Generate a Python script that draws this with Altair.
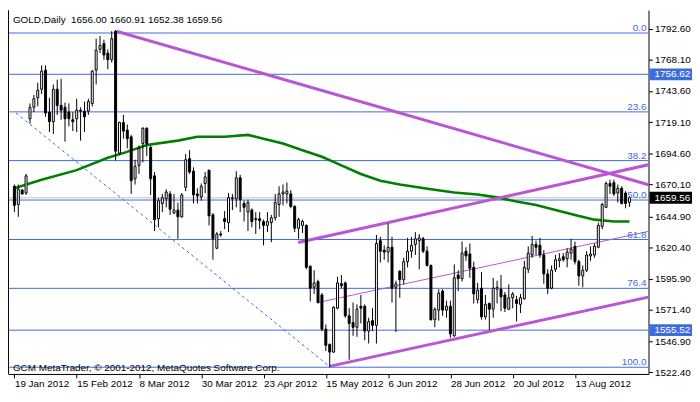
import altair as alt
import pandas as pd

# ---------------- data ----------------
opens = [
    1668.6, 1654.3, 1665.6, 1663.3, 1721.7, 1730.7, 1738.2, 1744.9, 1759.9, 1726.9,
    1719.4, 1744.9, 1732.2, 1730.7, 1726.9, 1720.9, 1721.7, 1728.4, 1727.7, 1727.7,
    1733.7, 1759.9, 1776.3, 1780.8, 1773.3, 1768.1, 1790.5, 1694.7, 1718.7, 1712.7,
    1707.5, 1674.5, 1685.0, 1702.2, 1714.2, 1699.2, 1676.8, 1643.1, 1655.1, 1658.8,
    1662.6, 1647.6, 1649.9, 1644.6, 1667.8, 1690.3, 1680.5, 1662.6, 1660.3, 1670.8,
    1681.3, 1646.1, 1619.9, 1631.1, 1643.1, 1640.1, 1658.8, 1658.8, 1675.3, 1655.1,
    1648.3, 1649.9, 1643.1, 1643.1, 1640.9, 1637.9, 1640.1, 1643.9, 1654.3, 1662.6,
    1662.6, 1662.6, 1652.8, 1635.6, 1637.9, 1637.9, 1605.7, 1589.2, 1593.7, 1583.2,
    1556.3, 1544.3, 1538.3, 1572.8, 1592.0, 1592.7, 1566.8, 1561.5, 1557.8, 1574.3,
    1574.3, 1554.8, 1563.0, 1559.3, 1625.9, 1618.4, 1616.9, 1620.7, 1589.2, 1601.9,
    1595.2, 1609.4, 1617.6, 1622.9, 1625.9, 1627.4, 1617.6, 1606.4, 1563.8, 1571.3,
    1586.2, 1571.3, 1574.3, 1551.1, 1598.9, 1596.0, 1617.6, 1615.4, 1604.9, 1579.5,
    1588.5, 1566.0, 1576.5, 1572.0, 1587.7, 1587.7, 1583.2, 1572.0, 1581.0, 1579.5,
    1575.8, 1580.2, 1603.4, 1614.6, 1622.9, 1622.2, 1614.6, 1599.7, 1588.5, 1603.4,
    1610.1, 1613.2, 1611.7, 1616.1, 1621.4, 1609.4, 1598.2, 1602.6, 1613.9, 1614.6,
    1620.7, 1637.1, 1652.1, 1670.8, 1671.5, 1663.3, 1667.1, 1663.3, 1656.00,
]
highs = [
    1670.0, 1670.0, 1666.3, 1678.3, 1733.7, 1740.4, 1750.1, 1763.6, 1763.6, 1738.2,
    1748.6, 1752.4, 1753.1, 1734.4, 1733.7, 1726.9, 1737.4, 1730.7, 1735.2, 1737.4,
    1759.9, 1784.6, 1786.8, 1783.8, 1776.3, 1790.5, 1791.3, 1719.4, 1724.7, 1717.2,
    1709.0, 1689.5, 1700.7, 1715.0, 1715.0, 1700.7, 1679.8, 1659.6, 1662.6, 1666.3,
    1664.8, 1662.6, 1655.8, 1663.3, 1694.0, 1697.0, 1683.5, 1667.1, 1670.8, 1679.8,
    1681.5, 1647.6, 1632.6, 1633.4, 1649.1, 1663.3, 1662.6, 1680.5, 1677.6, 1657.3,
    1658.1, 1651.3, 1648.3, 1648.3, 1642.4, 1648.3, 1646.1, 1662.6, 1668.6, 1670.0,
    1671.6, 1665.6, 1653.6, 1643.9, 1642.4, 1638.6, 1606.4, 1602.6, 1595.2, 1584.7,
    1560.0, 1545.1, 1574.3, 1597.5, 1598.9, 1593.7, 1572.8, 1577.2, 1575.8, 1583.2,
    1575.8, 1565.3, 1572.8, 1630.4, 1628.9, 1622.2, 1639.4, 1628.9, 1594.4, 1602.6,
    1612.4, 1628.1, 1628.9, 1632.6, 1631.1, 1628.9, 1621.4, 1607.2, 1573.5, 1587.7,
    1587.7, 1578.7, 1578.7, 1607.2, 1602.6, 1625.2, 1620.7, 1623.7, 1609.4, 1592.7,
    1601.2, 1583.2, 1577.2, 1596.7, 1594.4, 1598.9, 1585.5, 1591.5, 1585.5, 1582.5,
    1584.0, 1610.1, 1621.4, 1629.6, 1625.9, 1628.1, 1618.4, 1603.4, 1606.4, 1614.6,
    1616.1, 1616.1, 1619.9, 1627.4, 1625.2, 1610.9, 1606.4, 1617.6, 1621.4, 1623.7,
    1640.1, 1655.8, 1672.3, 1673.8, 1673.8, 1670.0, 1668.6, 1664.8, 1660.91,
]
lows = [
    1648.3, 1644.6, 1662.0, 1661.8, 1717.9, 1726.9, 1731.4, 1741.1, 1723.2, 1711.2,
    1709.7, 1724.7, 1720.9, 1703.7, 1715.7, 1712.0, 1711.2, 1704.5, 1711.2, 1724.7,
    1731.4, 1748.6, 1773.3, 1768.1, 1760.6, 1765.8, 1688.8, 1693.2, 1706.0, 1698.5,
    1662.6, 1670.0, 1678.3, 1687.3, 1692.5, 1661.8, 1633.4, 1636.4, 1648.3, 1652.1,
    1646.1, 1646.8, 1627.4, 1643.9, 1664.8, 1678.3, 1655.1, 1655.1, 1657.3, 1663.3,
    1637.9, 1610.9, 1619.2, 1628.9, 1634.9, 1632.6, 1649.9, 1652.1, 1648.3, 1640.9,
    1633.4, 1636.4, 1631.1, 1634.9, 1622.2, 1632.6, 1624.6, 1641.6, 1644.6, 1653.6,
    1655.1, 1651.3, 1632.6, 1627.4, 1631.9, 1603.4, 1578.0, 1584.0, 1576.5, 1554.8,
    1539.1, 1526.4, 1537.6, 1572.0, 1588.5, 1565.3, 1532.3, 1551.1, 1550.3, 1560.8,
    1547.6, 1545.1, 1554.8, 1545.0, 1608.7, 1610.9, 1608.7, 1577.2, 1554.1, 1581.0,
    1591.5, 1604.9, 1612.4, 1614.6, 1603.4, 1616.1, 1605.7, 1563.0, 1557.8, 1563.0,
    1566.8, 1565.3, 1549.6, 1550.3, 1586.2, 1593.7, 1610.1, 1596.7, 1576.5, 1576.5,
    1563.8, 1563.8, 1555.5, 1565.3, 1576.5, 1570.5, 1569.8, 1571.3, 1572.8, 1562.3,
    1569.0, 1579.5, 1600.4, 1612.4, 1614.6, 1612.4, 1592.0, 1584.0, 1587.7, 1601.2,
    1604.9, 1609.4, 1604.9, 1610.9, 1607.2, 1590.5, 1589.2, 1601.2, 1610.1, 1612.4,
    1619.9, 1634.9, 1651.4, 1662.6, 1661.0, 1655.8, 1654.3, 1651.3, 1652.38,
]
closes = [
    1653.6, 1666.3, 1662.6, 1676.8, 1730.7, 1737.4, 1744.1, 1759.1, 1726.2, 1719.4,
    1744.9, 1732.2, 1728.4, 1721.7, 1721.7, 1719.4, 1728.4, 1727.7, 1723.2, 1735.2,
    1759.1, 1775.6, 1779.3, 1771.8, 1768.1, 1784.6, 1696.2, 1718.7, 1712.0, 1706.0,
    1673.0, 1684.3, 1698.5, 1714.2, 1702.2, 1674.5, 1642.4, 1657.3, 1659.6, 1664.1,
    1650.6, 1649.9, 1644.6, 1661.8, 1689.5, 1679.8, 1661.8, 1661.1, 1668.6, 1676.0,
    1645.4, 1627.4, 1631.1, 1630.4, 1640.9, 1659.6, 1659.6, 1675.3, 1658.1, 1652.1,
    1655.8, 1640.9, 1642.4, 1641.6, 1637.9, 1640.9, 1643.9, 1655.8, 1662.6, 1664.1,
    1664.8, 1652.8, 1635.6, 1642.4, 1640.9, 1604.9, 1588.5, 1592.7, 1577.2, 1556.3,
    1543.6, 1538.3, 1573.5, 1592.7, 1590.5, 1566.8, 1560.8, 1557.8, 1572.0, 1572.8,
    1554.8, 1562.3, 1559.3, 1623.7, 1617.6, 1616.9, 1620.7, 1588.5, 1592.0, 1595.2,
    1609.4, 1617.6, 1622.2, 1627.4, 1628.1, 1617.6, 1606.4, 1563.8, 1572.0, 1584.7,
    1571.3, 1574.3, 1552.6, 1596.7, 1596.0, 1616.1, 1613.9, 1604.2, 1584.0, 1587.0,
    1566.0, 1575.8, 1572.0, 1588.5, 1589.2, 1581.7, 1572.8, 1581.0, 1584.0, 1576.5,
    1581.0, 1604.9, 1616.1, 1622.9, 1620.7, 1614.6, 1599.7, 1588.5, 1602.6, 1610.9,
    1611.7, 1610.9, 1616.9, 1619.2, 1609.4, 1598.2, 1602.6, 1614.6, 1615.4, 1621.4,
    1637.9, 1654.3, 1670.8, 1668.6, 1662.6, 1667.1, 1655.1, 1655.1, 1659.56,
]

# moving average (green line), sampled at bar indices
ma_idx = [0, 7, 16, 24, 28, 34, 42, 47, 54, 60, 64, 69, 74, 79, 84, 89, 94, 99,
          107, 113, 119, 124, 129, 134, 139, 144, 149, 154, 158]
ma_val = [1667.1, 1673.8, 1681.3, 1691.0, 1694.7, 1701.0, 1704.5, 1707.5, 1707.5,
          1709.0, 1706.0, 1702.2, 1697.0, 1691.8, 1685.0, 1678.3, 1673.0, 1670.0,
          1666.3, 1663.7, 1662.2, 1659.9, 1656.6, 1653.9, 1649.9, 1646.1, 1642.4,
          1640.9, 1640.9]

# Fibonacci retracement levels
fib_prices = [1789.1, 1727.1, 1688.8, 1657.8, 1626.8, 1588.4, 1526.4]
fib_labels = ["0.0", "23.6", "38.2", "50.0", "61.8", "76.4", "100.0"]

# horizontal price lines and bid
hline_prices = [1756.62, 1555.52]
bid_price = 1659.56

# trend lines (bar index, price) -> (bar index, price)
trend_x1 = [26.2, 72.9, 80.9, 77.9]
trend_p1 = [1790.5, 1624.4, 1527.1, 1577.2]
trend_x2 = [164.3, 164.3, 164.3, 164.3]
trend_p2 = [1668.6, 1686.5, 1582.5, 1634.1]
trend_w = [3, 3, 3, 1]

# dotted fibo base line
dash_x = [0.43, 80.9]
dash_p = [1726.2, 1527.1]

# axis labels
price_ticks = [1792.60, 1768.10, 1743.60, 1719.10, 1694.60, 1670.10,
               1644.90, 1620.40, 1595.90, 1571.40, 1546.90, 1522.40]
date_ticks = [0, 16, 32, 48, 64, 80, 96, 112, 128, 144]
date_labels = ["19 Jan 2012", "15 Feb 2012", "8 Mar 2012", "30 Mar 2012",
               "23 Apr 2012", "15 May 2012", "6 Jun 2012", "28 Jun 2012",
               "20 Jul 2012", "13 Aug 2012"]

box_prices = [1756.62, 1555.52, 1659.56]
box_fill = ["#3d6ddc", "#3d6ddc", "#000000"]

title_text = "GOLD,Daily\u00a0\u00a01656.00 1660.91 1652.38 1659.56"
copy_text = "GCM MetaTrader, \u00a9 2001-2012, MetaQuotes Software Corp."

# ---------------- chart ----------------
W, H = 648, 368
FONT = "Liberation Sans"
BLUE = "#4169e1"
PURPLE = "#ba55d3"
GREEN = "#008000"

xs = alt.Scale(domain=[-0.375, 161.625], nice=False, zero=False)
ys = alt.Scale(domain=[1521.1, 1807.0], nice=False, zero=False)

bars = pd.DataFrame({"i": list(range(len(opens))), "open": opens, "high": highs,
                     "low": lows, "close": closes})
bars["dir"] = ["up" if c > o else "down" for o, c in zip(opens, closes)]

tick_arr = "[" + ",".join(str(t) for t in date_ticks) + "]"
lab_arr = "[" + ",".join("'" + s + "'" for s in date_labels) + "]"
x_axis = alt.Axis(orient="bottom", values=date_ticks, title=None,
                  labelExpr=f"{lab_arr}[indexof({tick_arr}, datum.value)]",
                  labelAlign="left", labelBaseline="top", labelPadding=1,
                  labelFont=FONT, labelFontSize=10, labelColor="black",
                  tickSize=4, tickColor="black", domainColor="black",
                  labelOverlap=False, labelFlush=False, grid=False)
y_axis = alt.Axis(orient="right", values=price_ticks, format=".2f", title=None,
                  labelFont=FONT, labelFontSize=10, labelColor="black",
                  labelPadding=2, tickSize=4, tickColor="black",
                  domainColor="black", labelOverlap=False, labelFlush=False,
                  grid=False)


def X(field):
    return alt.X(field, type="quantitative", scale=xs, axis=x_axis)


def Y(field):
    return alt.Y(field, type="quantitative", scale=ys, axis=y_axis)


lines_df = pd.DataFrame({"p": fib_prices + hline_prices})
hlines = alt.Chart(lines_df).mark_rule(color=BLUE, strokeWidth=1).encode(y=Y("p"))

bid = alt.Chart(pd.DataFrame({"p": [bid_price]})).mark_rule(
    color="#c0c0c0", strokeWidth=1).encode(y=Y("p"))

dash = alt.Chart(pd.DataFrame({"x1": [dash_x[0]], "p1": [dash_p[0]],
                               "x2": [dash_x[1]], "p2": [dash_p[1]]})).mark_rule(
    color=BLUE, strokeWidth=1, strokeDash=[3, 3]).encode(
    x=X("x1"), x2="x2:Q", y=Y("p1"), y2="p2:Q")

ma = alt.Chart(pd.DataFrame({"i": ma_idx, "v": ma_val})).mark_line(
    color=GREEN, strokeWidth=2.6).encode(x=X("i"), y=Y("v"))

trend_df = pd.DataFrame({"x1": trend_x1, "p1": trend_p1, "x2": trend_x2,
                         "p2": trend_p2, "w": trend_w})
trends = alt.Chart(trend_df).mark_rule(color=PURPLE, clip=True).encode(
    x=X("x1"), x2="x2:Q", y=Y("p1"), y2="p2:Q",
    strokeWidth=alt.StrokeWidth("w:Q", scale=None, legend=None))

wicks = alt.Chart(bars).mark_rule(color="black", strokeWidth=1).encode(
    x=X("i"), y=Y("low"), y2="high:Q")

bodies = alt.Chart(bars).mark_bar(size=2, stroke="black", strokeWidth=1).encode(
    x=X("i"), y=Y("open"), y2="close:Q",
    fill=alt.Fill("dir:N", scale=alt.Scale(domain=["up", "down"],
                                            range=["white", "black"]), legend=None))

fib_text = alt.Chart(pd.DataFrame({"p": fib_prices, "t": fib_labels})).mark_text(
    align="right", baseline="alphabetic", dy=-2, font=FONT, fontSize=10,
    color=BLUE).encode(x=alt.value(W - 2), y=Y("p"), text="t:N")

box_df = pd.DataFrame({"p": box_prices, "f": box_fill,
                       "t": [f"{v:.2f}" for v in box_prices]})
boxes = alt.Chart(box_df).mark_tick(orient="horizontal", size=43, thickness=12,
                                    opacity=1).encode(
    x=alt.value(W + 22.5), y=Y("p"),
    color=alt.Color("f:N", scale=None, legend=None))
box_text = alt.Chart(box_df).mark_text(
    align="left", baseline="middle", font=FONT, fontSize=10, color="white").encode(
    x=alt.value(W + 6), y=Y("p"), text="t:N")

title = alt.Chart(pd.DataFrame({"t": [title_text]})).mark_text(
    align="left", baseline="middle", font=FONT, fontSize=10, color="black").encode(
    x=alt.value(5), y=alt.value(10), text="t:N")
copyright_ = alt.Chart(pd.DataFrame({"t": [copy_text]})).mark_text(
    align="left", baseline="middle", font=FONT, fontSize=10, color="black").encode(
    x=alt.value(5), y=alt.value(H - 6), text="t:N")

left_border = alt.Chart(pd.DataFrame({"a": [0]})).mark_rule(
    color="black", strokeWidth=1).encode(
    x=alt.value(0.5), y=alt.value(0), y2=alt.value(H))

chart = alt.layer(
    hlines, bid, dash, ma, trends, wicks, bodies, fib_text, boxes, box_text,
    title, copyright_, left_border
).properties(
    width=W, height=H,
    padding={"left": 0, "top": 0, "right": 44, "bottom": 16},
    autosize=alt.AutoSizeParams(type="none"),
    background="white",
).configure_view(strokeWidth=0)

chart.save("out.html", embed_options={"renderer": "svg", "actions": False})
